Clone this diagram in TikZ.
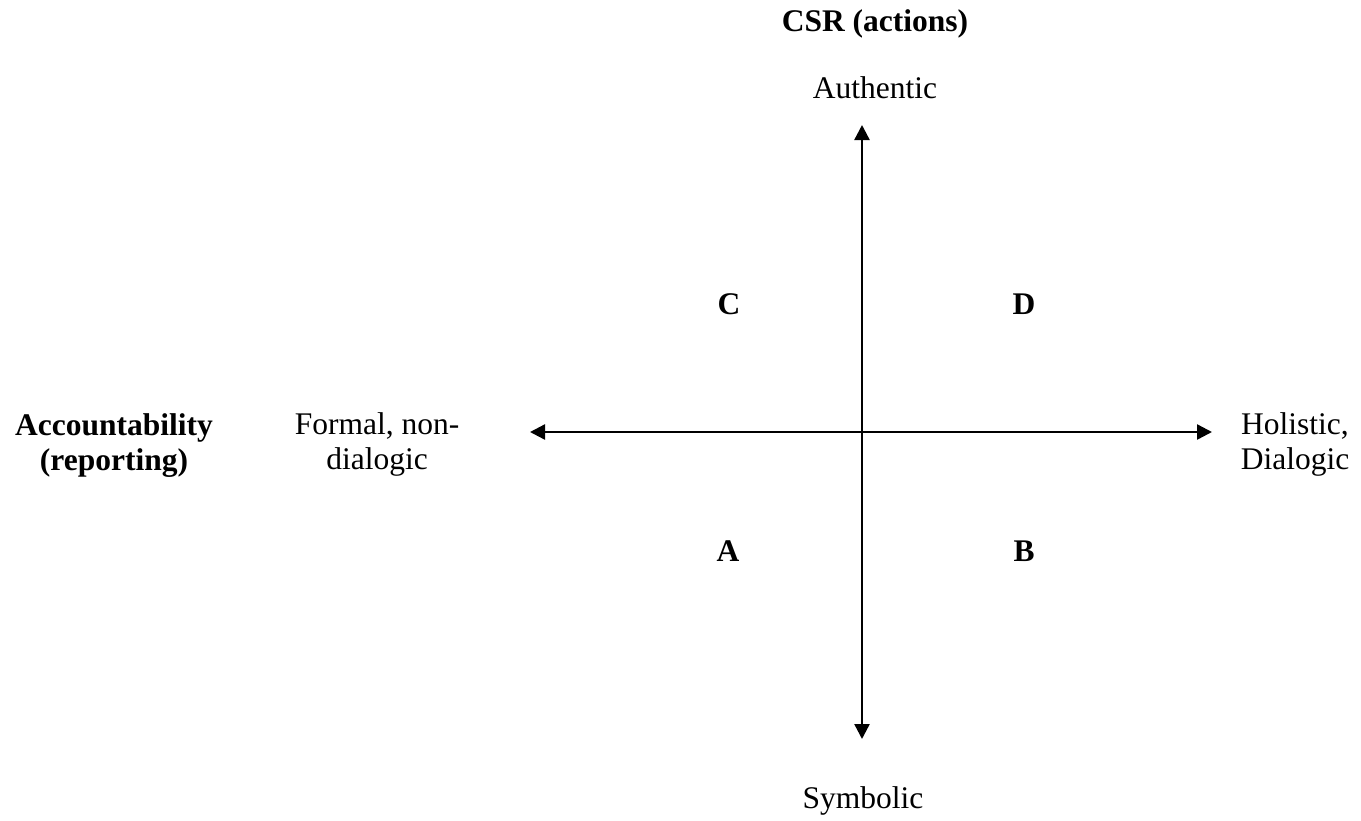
\documentclass[tikz,border=0pt]{standalone}
\usepackage{fontspec}
\setmainfont{Liberation Serif}
\usetikzlibrary{arrows.meta}
\begin{document}
\begin{tikzpicture}[x=1pt,y=-1pt,
  lbl/.style={font=\fontsize{31.5}{35}\selectfont, anchor=base, align=center, inner sep=0pt},
  bold/.style={lbl, font=\fontsize{31.5}{35}\selectfont\bfseries},
  tip/.tip={Triangle[length=15pt,width=15pt]},
  axis/.style={line width=2.4pt, tip-tip}]
  \useasboundingbox (0,0) rectangle (1361,820);
  % axis end points
  \coordinate (top) at (862,125);
  \coordinate (bottom) at (862,739);
  \coordinate (left) at (530,432);
  \coordinate (right) at (1212,432);
  \draw[axis] (bottom) -- (top);
  \draw[axis] (left) -- (right);
  % axis titles and pole labels
  \node[bold] (csr) at (875,31) {CSR (actions)};
  \node[lbl] (auth) at (875,98) {Authentic};
  \node[lbl] (sym) at (863,808) {Symbolic};
  \node[bold, anchor=north] (acc) at (114,413) {Accountability\\(reporting)};
  \node[lbl, anchor=north] (formal) at (377,412) {Formal, non-\\dialogic};
  \node[lbl, anchor=north] (hol) at (1295,412) {Holistic,\\Dialogic};
  % quadrant letters
  \node[bold] (qc) at (729,314) {C};
  \node[bold] (qd) at (1024,314) {D};
  \node[bold] (qa) at (728,561) {A};
  \node[bold] (qb) at (1024,561) {B};
\end{tikzpicture}
\end{document}
